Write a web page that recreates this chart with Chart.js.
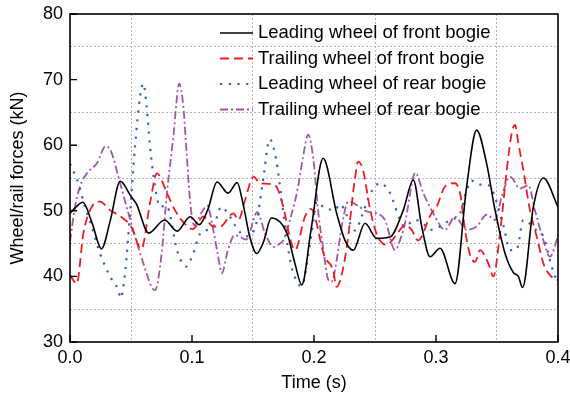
<!DOCTYPE html>
<html><head><meta charset="utf-8">
<script src="https://cdn.jsdelivr.net/npm/chart.js@4.4.0/dist/chart.umd.min.js"></script>
<style>html,body{margin:0;padding:0;background:#fff;}canvas{display:block;}</style>
</head><body>
<canvas id="c" width="570" height="399"></canvas>
<script>
// ---- data: [time (s), force (kN)] ----
const seriesNames = ['Leading wheel of front bogie','Trailing wheel of front bogie','Leading wheel of rear bogie','Trailing wheel of rear bogie'];
const frontLeading = [[0,49.6],[0.005,50.6],[0.0105,51.3],[0.018,48.2],[0.0258,44.2],[0.033,48.5],[0.0412,54.5],[0.05,52.2],[0.0545,51.0],[0.0645,46.6],[0.0775,48.6],[0.0878,46.9],[0.0985,49.1],[0.106,47.9],[0.113,50.2],[0.1205,54.4],[0.1295,52.7],[0.137,54.3],[0.1418,51.1],[0.1473,46.1],[0.153,43.5],[0.1585,45.2],[0.165,48.9],[0.178,46.5],[0.1842,42.1],[0.19,38.7],[0.1975,47.0],[0.2075,58.0],[0.2186,49.6],[0.2254,45.5],[0.2322,44.0],[0.2418,48.1],[0.2514,45.8],[0.2623,46.0],[0.2732,50.1],[0.2814,54.7],[0.2883,47.6],[0.2951,43.0],[0.3033,44.3],[0.3156,38.9],[0.3251,53.7],[0.3333,62.3],[0.3415,57.2],[0.3484,50.1],[0.3566,43.5],[0.3634,40.6],[0.3675,40.0],[0.371,38.3],[0.3798,50.6],[0.388,55.0],[0.4,50.6]];
const frontTrailing = [[0,40.2],[0.0055,38.9],[0.011,46.6],[0.0178,50.6],[0.0246,51.4],[0.0328,50.1],[0.0418,49.1],[0.05,47.6],[0.0585,44.2],[0.0656,51.2],[0.0712,55.7],[0.0795,52.7],[0.086,50.1],[0.0937,48.1],[0.1005,47.2],[0.1093,49.1],[0.1175,47.6],[0.123,47.6],[0.1339,49.6],[0.138,48.6],[0.1434,51.6],[0.1505,55.2],[0.1557,54.2],[0.168,53.9],[0.1748,50.6],[0.18,46.1],[0.1844,44.0],[0.1926,49.1],[0.1975,50.3],[0.2087,43.0],[0.2156,41.0],[0.2185,38.4],[0.2265,44.0],[0.2334,54.7],[0.2362,57.5],[0.2402,56.2],[0.2456,50.6],[0.2511,46.6],[0.2593,44.8],[0.2675,46.3],[0.2743,47.8],[0.28,47.1],[0.2852,45.5],[0.2962,49.6],[0.3005,50.6],[0.3074,53.7],[0.3156,54.2],[0.32,52.4],[0.3238,47.1],[0.3279,43.3],[0.332,42.2],[0.336,44.0],[0.3429,42.0],[0.347,40.0],[0.3525,46.6],[0.358,56.2],[0.362,61.8],[0.3648,63.1],[0.3675,60.3],[0.3716,56.2],[0.377,50.1],[0.3825,46.1],[0.388,42.0],[0.3934,40.2],[0.4,39.4]];
const rearLeading = [[0,57.2],[0.0068,54.2],[0.0123,50.6],[0.0178,47.6],[0.0246,43.5],[0.0328,40.0],[0.0396,37.9],[0.0415,36.7],[0.0451,40.5],[0.0492,49.6],[0.0533,59.8],[0.0574,67.4],[0.0601,69.4],[0.0628,65.9],[0.0656,59.8],[0.0697,53.7],[0.0738,50.6],[0.079,50.8],[0.088,43.8],[0.095,41.5],[0.1011,43.5],[0.1063,46.4],[0.1175,47.6],[0.124,50.6],[0.1295,49.6],[0.1377,47.1],[0.1445,46.1],[0.1527,48.1],[0.1582,54.6],[0.1637,60.9],[0.1691,57.7],[0.1732,52.1],[0.1773,46.1],[0.1814,41.6],[0.1871,38.9],[0.1895,38.5],[0.1981,46.6],[0.2022,51.4],[0.2077,50.6],[0.2172,50.1],[0.221,51.0],[0.234,47.0],[0.2388,49.0],[0.2459,52.5],[0.2541,54.2],[0.2623,52.7],[0.2705,48.6],[0.2743,47.6],[0.2825,48.6],[0.2893,48.1],[0.2951,47.1],[0.3033,47.6],[0.3115,48.6],[0.3197,49.6],[0.3251,53.1],[0.3292,54.6],[0.336,54.0],[0.3429,53.9],[0.3552,47.8],[0.3607,44.0],[0.3661,44.1],[0.3716,48.6],[0.3825,47.0],[0.388,46.1],[0.3948,41.5],[0.4,38.8]];
const rearTrailing = [[0,45.3],[0.0041,50.6],[0.0082,53.7],[0.0137,55.7],[0.0219,57.2],[0.0295,59.9],[0.0342,58.8],[0.0396,55.2],[0.0464,50.6],[0.0533,46.1],[0.0601,42.0],[0.0669,38.4],[0.0697,37.9],[0.0751,43.5],[0.0792,52.2],[0.0847,61.3],[0.0896,69.4],[0.0929,65.9],[0.0956,58.8],[0.0984,51.6],[0.1017,47.8],[0.108,49.8],[0.1125,50.8],[0.117,47.5],[0.121,43.5],[0.1245,40.5],[0.1295,44.1],[0.135,46.3],[0.1395,46.0],[0.1445,45.6],[0.1535,49.8],[0.1598,46.6],[0.1667,44.5],[0.172,45.0],[0.1748,45.5],[0.1803,48.6],[0.1869,53.6],[0.191,58.2],[0.1952,61.6],[0.1995,57.8],[0.2036,49.6],[0.2077,44.0],[0.2117,39.5],[0.2145,39.2],[0.2186,42.5],[0.2227,47.6],[0.2281,51.4],[0.235,50.9],[0.2432,49.9],[0.2514,49.6],[0.2582,48.6],[0.2664,44.0],[0.2716,46.1],[0.2746,48.1],[0.2814,55.2],[0.283,55.8],[0.2896,52.7],[0.2978,49.6],[0.3074,47.1],[0.3156,49.1],[0.3251,47.1],[0.3333,47.6],[0.3415,49.4],[0.3484,48.6],[0.3539,52.2],[0.3607,55.2],[0.3689,53.4],[0.3757,53.9],[0.3811,50.1],[0.388,45.5],[0.3934,43.0],[0.4,46.1]];
const xMajor = [0, 0.1, 0.2, 0.3, 0.4];
const xGrid = [0.05, 0.15, 0.25, 0.35];
const yMajor = [30, 40, 50, 60, 70, 80];
const yGrid = [35, 45, 55, 65, 75];

const FONT = "'Liberation Sans', Arial, sans-serif";
const styles = [
  {color:'#000000', dash:[], width:1.6},
  {color:'#ee1c24', dash:[9,5], width:1.8},
  {color:'#3560c4', dash:[2.2,6.5], width:2.2},
  {color:'#a855a8', dash:[8,3,2,3], width:1.8}
];
const allSeries = [frontLeading, frontTrailing, rearLeading, rearTrailing];

const datasets = allSeries.map((s, i) => ({
  label: seriesNames[i],
  data: s.map(p => ({x: p[0], y: p[1]})),
  borderColor: styles[i].color,
  borderDash: styles[i].dash,
  borderWidth: styles[i].width,
  pointRadius: 0,
  cubicInterpolationMode: 'monotone',
  fill: false
}));

const framePlugin = {
  id: 'frame',
  afterDatasetsDraw(chart) {
    const {ctx, chartArea: a, scales} = chart;
    ctx.save();
    ctx.strokeStyle = '#000';
    ctx.lineWidth = 1.6;
    ctx.setLineDash([]);
    ctx.strokeRect(a.left, a.top, a.right - a.left, a.bottom - a.top);
    ctx.lineWidth = 1.4;
    ctx.beginPath();
    xMajor.forEach(v => { const x = scales.x.getPixelForValue(v); ctx.moveTo(x, a.bottom); ctx.lineTo(x, a.bottom - 7); });
    yMajor.forEach(v => { const y = scales.y.getPixelForValue(v); ctx.moveTo(a.left, y); ctx.lineTo(a.left + 7, y); });
    ctx.stroke();
    ctx.restore();
  },
  afterDraw(chart) {
    const {ctx} = chart;
    ctx.save();
    ctx.font = '18.5px ' + FONT;
    ctx.textBaseline = 'middle';
    ctx.fillStyle = '#000';
    chart.data.datasets.forEach((d, i) => {
      const y = 33 + i * 25.5;
      ctx.strokeStyle = d.borderColor;
      ctx.lineWidth = d.borderWidth;
      ctx.setLineDash(d.borderDash);
      ctx.beginPath(); ctx.moveTo(220, y); ctx.lineTo(253, y); ctx.stroke();
      ctx.fillText(d.label, 258, y);
    });
    ctx.restore();
  }
};

new Chart(document.getElementById('c'), {
  type: 'line',
  data: { datasets },
  options: {
    responsive: false,
    animation: false,
    layout: { padding: { top: 14, right: 12, left: 0, bottom: 0 } },
    plugins: { legend: { display: false }, tooltip: { enabled: false } },
    scales: {
      x: {
        type: 'linear', min: 0, max: 0.4,
        afterBuildTicks: s => { s.ticks = xMajor.concat(xGrid).sort((a,b)=>a-b).map(v => ({value: v})); },
        afterFit: s => { s.height = 57; s.paddingLeft = 0; s.paddingRight = 0; },
        ticks: { autoSkip: false, maxRotation: 0, padding: 5, color: '#000', font: { family: FONT, size: 18 },
          callback: v => xMajor.includes(v) ? v.toFixed(1) : '' },
        grid: { drawTicks: false, lineWidth: 1, color: c => xGrid.includes(c.tick && c.tick.value) ? '#b4b4b4' : 'rgba(0,0,0,0)' },
        border: { display: false, dash: [2, 2] },
        title: { display: true, text: 'Time (s)', color: '#000', font: { family: FONT, size: 18 }, padding: { top: 0, bottom: 5 } }
      },
      y: {
        type: 'linear', min: 30, max: 80,
        afterBuildTicks: s => { s.ticks = yMajor.concat(yGrid).sort((a,b)=>a-b).map(v => ({value: v})); },
        afterFit: s => { s.width = 70; s.paddingTop = 0; s.paddingBottom = 0; },
        ticks: { autoSkip: false, padding: 7, color: '#000', font: { family: FONT, size: 18 },
          callback: v => yMajor.includes(v) ? String(v) : '' },
        grid: { drawTicks: false, lineWidth: 1, color: c => yGrid.includes(c.tick && c.tick.value) ? '#b4b4b4' : 'rgba(0,0,0,0)' },
        border: { display: false, dash: [2, 2] },
        title: { display: true, text: 'Wheel/rail forces (kN)', color: '#000', font: { family: FONT, size: 18 }, padding: { top: 7, bottom: 0 } }
      }
    }
  },
  plugins: [framePlugin]
});
</script>
</body></html>
